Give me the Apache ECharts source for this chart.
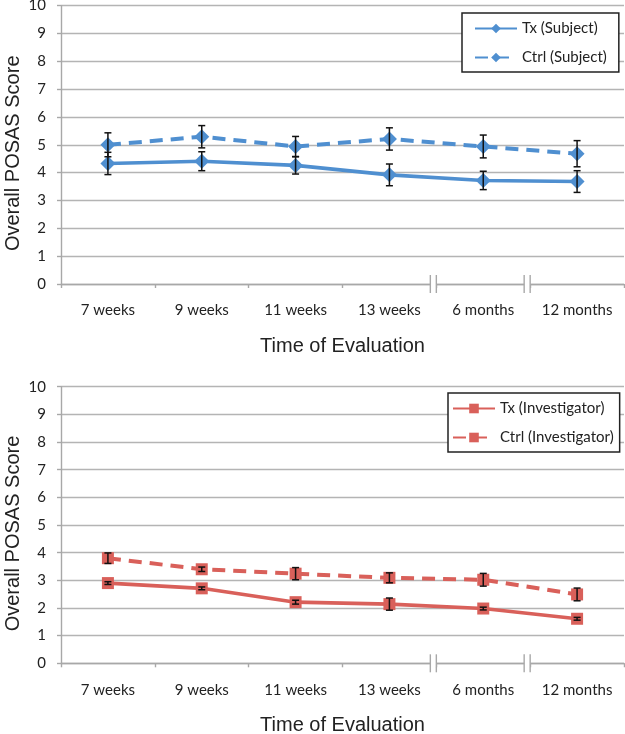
<!DOCTYPE html>
<html>
<head>
<meta charset="utf-8">
<script src="https://cdn.jsdelivr.net/npm/echarts@6/dist/echarts.min.js"></script>
<style>
html,body{margin:0;padding:0;background:#fff;}
#c{width:625px;height:734px;}
</style>
</head>
<body>
<div id="c"></div>
<script>
// ---- data ----
const categories = ['7 weeks', '9 weeks', '11 weeks', '13 weeks', '6 months', '12 months'];
const yTicks = [0, 1, 2, 3, 4, 5, 6, 7, 8, 9, 10];

const txSubject = [4.33, 4.41, 4.26, 3.92, 3.72, 3.68];
const txSubjectErr = [0.40, 0.34, 0.31, 0.39, 0.33, 0.39];
const ctrlSubject = [5.00, 5.29, 4.94, 5.21, 4.94, 4.68];
const ctrlSubjectErr = [0.43, 0.40, 0.36, 0.40, 0.41, 0.47];

const txInvestigator = [2.90, 2.71, 2.21, 2.14, 1.98, 1.61];
const txInvestigatorErr = [0.05, 0.05, 0.07, 0.22, 0.05, 0.05];
const ctrlInvestigator = [3.80, 3.40, 3.24, 3.09, 3.02, 2.49];
const ctrlInvestigatorErr = [0.19, 0.08, 0.22, 0.18, 0.23, 0.23];

const axisBreakAfter = [3, 4]; // breaks after '13 weeks' and after '6 months'

// ---- styles ----
const BLUE = '#4f8fd0';
const RED = '#d9605a';
const GRID_COLOR = '#b4b4b4';
const TICK_FONT = 'Lato, "Open Sans", sans-serif';
const NAME_FONT = '"Liberation Sans", Arial, sans-serif';

function errData(vals, errs) {
  return vals.map((v, i) => [i, v - errs[i], v + errs[i]]);
}

function errorBarSeries(name, xi, yi, vals, errs) {
  return {
    type: 'custom',
    name: name,
    xAxisIndex: xi, yAxisIndex: yi,
    z: 10,
    silent: true,
    encode: { x: 0, y: [1, 2] },
    data: errData(vals, errs),
    renderItem: function (params, api) {
      const lo = api.coord([api.value(0), api.value(1)]);
      const hi = api.coord([api.value(0), api.value(2)]);
      const cap = 3.5;
      const st = { stroke: '#111', lineWidth: 1.5 };
      return {
        type: 'group',
        children: [
          { type: 'line', shape: { x1: lo[0], y1: lo[1], x2: hi[0], y2: hi[1] }, style: st },
          { type: 'line', shape: { x1: lo[0] - cap, y1: lo[1], x2: lo[0] + cap, y2: lo[1] }, style: st },
          { type: 'line', shape: { x1: hi[0] - cap, y1: hi[1], x2: hi[0] + cap, y2: hi[1] }, style: st }
        ]
      };
    }
  };
}

function breakSeries(xi, yi) {
  return {
    type: 'custom',
    xAxisIndex: xi, yAxisIndex: yi,
    z: 20,
    silent: true,
    clip: false,
    data: axisBreakAfter.map(i => [i, 0]),
    renderItem: function (params, api) {
      const c = api.coord([api.value(0), api.value(1)]);
      const w = api.size([1, 0])[0];
      const x = c[0] + w / 2 - 3;
      const y = c[1];
      const g = 3;
      const st = { stroke: '#a8a8a8', lineWidth: 1.4 };
      return {
        type: 'group',
        children: [
          { type: 'rect', shape: { x: x - g, y: y - 3, width: 2 * g, height: 7 }, style: { fill: '#fff' } },
          { type: 'line', shape: { x1: x - g, y1: y - 9, x2: x - g, y2: y + 9 }, style: st },
          { type: 'line', shape: { x1: x + g, y1: y - 9, x2: x + g, y2: y + 9 }, style: st }
        ]
      };
    }
  };
}

function lineSeries(name, xi, yi, data, color, dashed, symbol, size) {
  return {
    type: 'line',
    name: name,
    xAxisIndex: xi, yAxisIndex: yi,
    data: data,
    symbol: symbol,
    symbolSize: size,
    z: 5,
    itemStyle: { color: color },
    lineStyle: { color: color, width: dashed ? 4 : 3.6, type: dashed ? [13, 8] : 'solid' },
    emphasis: { disabled: true },
    animation: false
  };
}

function xAxis(gi) {
  return {
    type: 'category', gridIndex: gi, data: categories, boundaryGap: true,
    axisLine: { lineStyle: { color: '#a8a8a8', width: 1.4 } },
    axisTick: { show: true, interval: 0, length: 4, inside: false, lineStyle: { color: '#a8a8a8', width: 1.4 } },
    axisLabel: { interval: 0, color: '#222', fontFamily: TICK_FONT, fontSize: 15, margin: 19 },
    name: 'Time of Evaluation', nameLocation: 'middle', nameGap: 52,
    nameTextStyle: { color: '#222', fontFamily: NAME_FONT, fontSize: 20 }
  };
}

function yAxis(gi) {
  return {
    type: 'value', gridIndex: gi, min: yTicks[0], max: yTicks[yTicks.length - 1], interval: 1,
    axisLine: { show: true, lineStyle: { color: '#a8a8a8', width: 1.4 } },
    axisTick: { show: true, length: 4, lineStyle: { color: '#a8a8a8', width: 1.4 } },
    axisLabel: { color: '#222', fontFamily: TICK_FONT, fontSize: 15, margin: 15 },
    splitLine: { show: true, lineStyle: { color: GRID_COLOR, width: 1.4 } },
    name: 'Overall POSAS Score', nameLocation: 'middle', nameGap: 38, nameRotate: 90,
    nameMoveOverlap: false,
    nameTextStyle: { color: '#222', fontFamily: NAME_FONT, fontSize: 20, padding: [0, 17, 0, 0] }
  };
}

function legend(names, left, top, pad) {
  return {
    data: names, orient: 'vertical', left: left, top: top,
    padding: pad, itemWidth: 42, itemHeight: 12, itemGap: 14,
    borderColor: '#222', borderWidth: 1.5, backgroundColor: '#fff',
    textStyle: { color: '#222', fontFamily: TICK_FONT, fontSize: 15 },
    selectedMode: false
  };
}

const chart = echarts.init(document.getElementById('c'), null, { renderer: 'canvas' });
chart.setOption({
  animation: false,
  backgroundColor: '#fff',
  grid: [
    { left: 61, top: 5.6, width: 563, height: 278.4, outerBoundsMode: 'none', containLabel: false },
    { left: 61, top: 386.7, width: 563, height: 276.6, outerBoundsMode: 'none', containLabel: false }
  ],
  xAxis: [xAxis(0), xAxis(1)],
  yAxis: [yAxis(0), yAxis(1)],
  legend: [
    legend(['Tx (Subject)', 'Ctrl (Subject)'], 462, 13, [8, 12, 7, 12]),
    legend(['Tx (Investigator)', 'Ctrl (Investigator)'], 448, 393, [8, 6, 7, 4])
  ],
  series: [
    lineSeries('Tx (Subject)', 0, 0, txSubject, BLUE, false, 'diamond', 15),
    lineSeries('Ctrl (Subject)', 0, 0, ctrlSubject, BLUE, true, 'diamond', 15),
    errorBarSeries('errTxS', 0, 0, txSubject, txSubjectErr),
    errorBarSeries('errCtrlS', 0, 0, ctrlSubject, ctrlSubjectErr),
    lineSeries('Tx (Investigator)', 1, 1, txInvestigator, RED, false, 'rect', 12),
    lineSeries('Ctrl (Investigator)', 1, 1, ctrlInvestigator, RED, true, 'rect', 12),
    errorBarSeries('errTxI', 1, 1, txInvestigator, txInvestigatorErr),
    errorBarSeries('errCtrlI', 1, 1, ctrlInvestigator, ctrlInvestigatorErr),
    breakSeries(0, 0),
    breakSeries(1, 1)
  ]
});
</script>
</body>
</html>
